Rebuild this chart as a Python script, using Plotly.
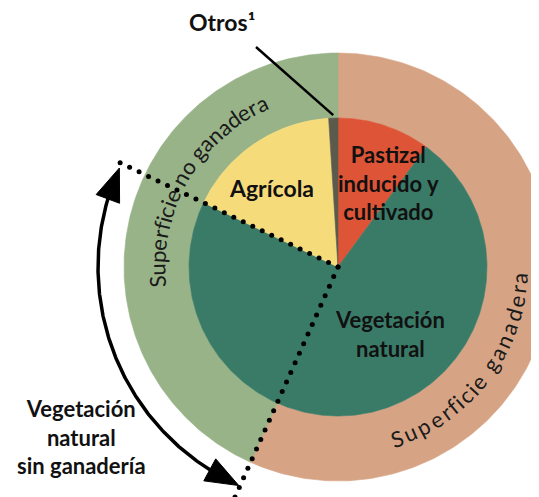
import numpy as np
import plotly.graph_objects as go

# inner pie: land use
inner_labels = ["Pastizal inducido y cultivado", "Vegetación natural", "Agrícola", "Otros¹"]
inner_values = [10.1, 72.0, 16.9, 1.0]
inner_colors = ["#DD5436", "#3A7B68", "#F6DB7B", "#5B5A4D"]

# outer ring: livestock vs non-livestock surface
outer_labels = ["Superficie ganadera", "Superficie no ganadera"]
outer_values = [56.7, 43.3]
outer_colors = ["#D6A485", "#98B388"]

W, H = 539, 497
OFF = 8                      # page body margin
CX, CY = 338, 267
R_IN, R_OUT = 149, 214
R_TXT = 181
FONT = "Lato"
INK = "#111111"


def pt(ang, r):
    a = np.radians(ang)
    return CX + r * np.sin(a), CY - r * np.cos(a)


def edges(values):
    v = np.asarray(values, dtype=float)
    return np.concatenate([[0], np.cumsum(v)]) / v.sum() * 360


fig = go.Figure()


def wedge(a0, a1, r0, r1, color, name):
    t = np.linspace(a0, a1, 240)
    xo, yo = pt(t, r1)
    if r0 == 0:
        xs = np.concatenate([[CX], xo, [CX]])
        ys = np.concatenate([[CY], yo, [CY]])
    else:
        xi, yi = pt(t[::-1], r0)
        xs = np.concatenate([xo, xi, xo[:1]])
        ys = np.concatenate([yo, yi, yo[:1]])
    fig.add_trace(go.Scatter(x=xs, y=ys, fill="toself", fillcolor=color, mode="lines",
                             line=dict(color=color, width=0.6), hoveron="fills",
                             hoverinfo="text", text=name, name=name))


out_e = edges(outer_values)
for i, lab in enumerate(outer_labels):
    wedge(out_e[i], out_e[i + 1], R_IN, R_OUT, outer_colors[i], lab)

in_e = edges(inner_values)
for i, lab in enumerate(inner_labels):
    wedge(in_e[i], in_e[i + 1], 0, R_IN, inner_colors[i], lab)

a_split = out_e[1]        # end of superficie ganadera
a_agri = in_e[2]          # start of agricola

# dotted boundaries
for ang, rmax in [(a_agri, 244), (a_split, 262)]:
    rr = np.arange(0, rmax, 10.5)
    x, y = pt(ang, rr)
    fig.add_trace(go.Scatter(x=x, y=y, mode="markers", hoverinfo="skip",
                             marker=dict(size=5, color="black")))

# curved double arrow: vegetacion natural sin ganaderia
R_ARR = 240
HEAD = 33
d_head = np.degrees(HEAD / R_ARR)
t = np.linspace(a_split + 0.3 + d_head - 1, a_agri - 1.2 - d_head + 1, 200)
x, y = pt(t, R_ARR)
fig.add_trace(go.Scatter(x=x, y=y, mode="lines", hoverinfo="skip",
                         line=dict(color="black", width=3.5)))
for tip_a, base_a in [(a_agri - 1.2, a_agri - 1.2 - d_head), (a_split + 0.3, a_split + 0.3 + d_head)]:
    tx, ty = pt(tip_a, R_ARR)
    bx, by = pt(base_a, R_ARR)
    ux, uy = tx - bx, ty - by
    L = np.hypot(ux, uy)
    nx, ny = -uy / L, ux / L
    fig.add_trace(go.Scatter(x=[tx, bx + 12.5 * nx, bx - 12.5 * nx, tx],
                             y=[ty, by + 12.5 * ny, by - 12.5 * ny, ty],
                             fill="toself", fillcolor="black", mode="lines",
                             line=dict(color="black", width=1), hoverinfo="skip"))

# leader line for Otros
otros_mid = (in_e[3] + in_e[4]) / 2
ex, ey = pt(otros_mid, R_IN + 3)
fig.add_trace(go.Scatter(x=[256, ex], y=[47, ey], mode="lines", hoverinfo="skip",
                         line=dict(color="black", width=2.5)))


def label(text, x, y, size=22):
    fig.add_annotation(x=x, y=y, text=text, showarrow=False,
                       xanchor="center", yanchor="middle",
                       font=dict(family=FONT, size=size, color=INK, weight="bold"))


label("Otros¹", 222, 22, 23)
label("Pastizal<br>inducido y<br>cultivado", 388, 183)
label("Agrícola", 271, 188, 23)
label("Vegetación<br>natural", 390, 334)
label("Vegetación<br>natural<br>sin ganadería", 81, 437)

# text along the ring
W_EM = {'S': 0.50, 'u': 0.56, 'p': 0.56, 'e': 0.53, 'r': 0.37, 'f': 0.33, 'i': 0.24,
        'c': 0.46, 'n': 0.56, 'o': 0.56, 'g': 0.51, 'a': 0.49, 'd': 0.56, ' ': 0.26}


def arc_text(text, a_first, a_last, clockwise):
    w = np.array([W_EM[c] for c in text])
    cum = np.cumsum(w) - w / 2
    frac = (cum - cum[0]) / (cum[-1] - cum[0])
    angs = a_first + frac * (a_last - a_first)
    for c, a in zip(text, angs):
        if c == " ":
            continue
        x, y = pt(a, R_TXT)
        rot = a if clockwise else a + 180
        rot = ((rot + 180) % 360) - 180
        fig.add_annotation(x=x, y=y, text=c, textangle=rot, showarrow=False,
                           xanchor="center", yanchor="middle",
                           font=dict(family=FONT, size=22, color="#1a1a1a"))


arc_text("Superficie no ganadera", 265.3, 334.9, True)
arc_text("Superficie ganadera", 160.9, 93.5, False)

# the page body adds an 8px margin, so the plot covers page pixels 8..W and 8..H
fig.update_layout(
    width=W - OFF, height=H - OFF, margin=dict(l=0, r=0, t=0, b=0),
    paper_bgcolor="white", plot_bgcolor="white", showlegend=False,
    xaxis=dict(range=[OFF, W], visible=False, fixedrange=True),
    yaxis=dict(range=[H, OFF], visible=False, fixedrange=True),
)

fig.write_html("out.html")
